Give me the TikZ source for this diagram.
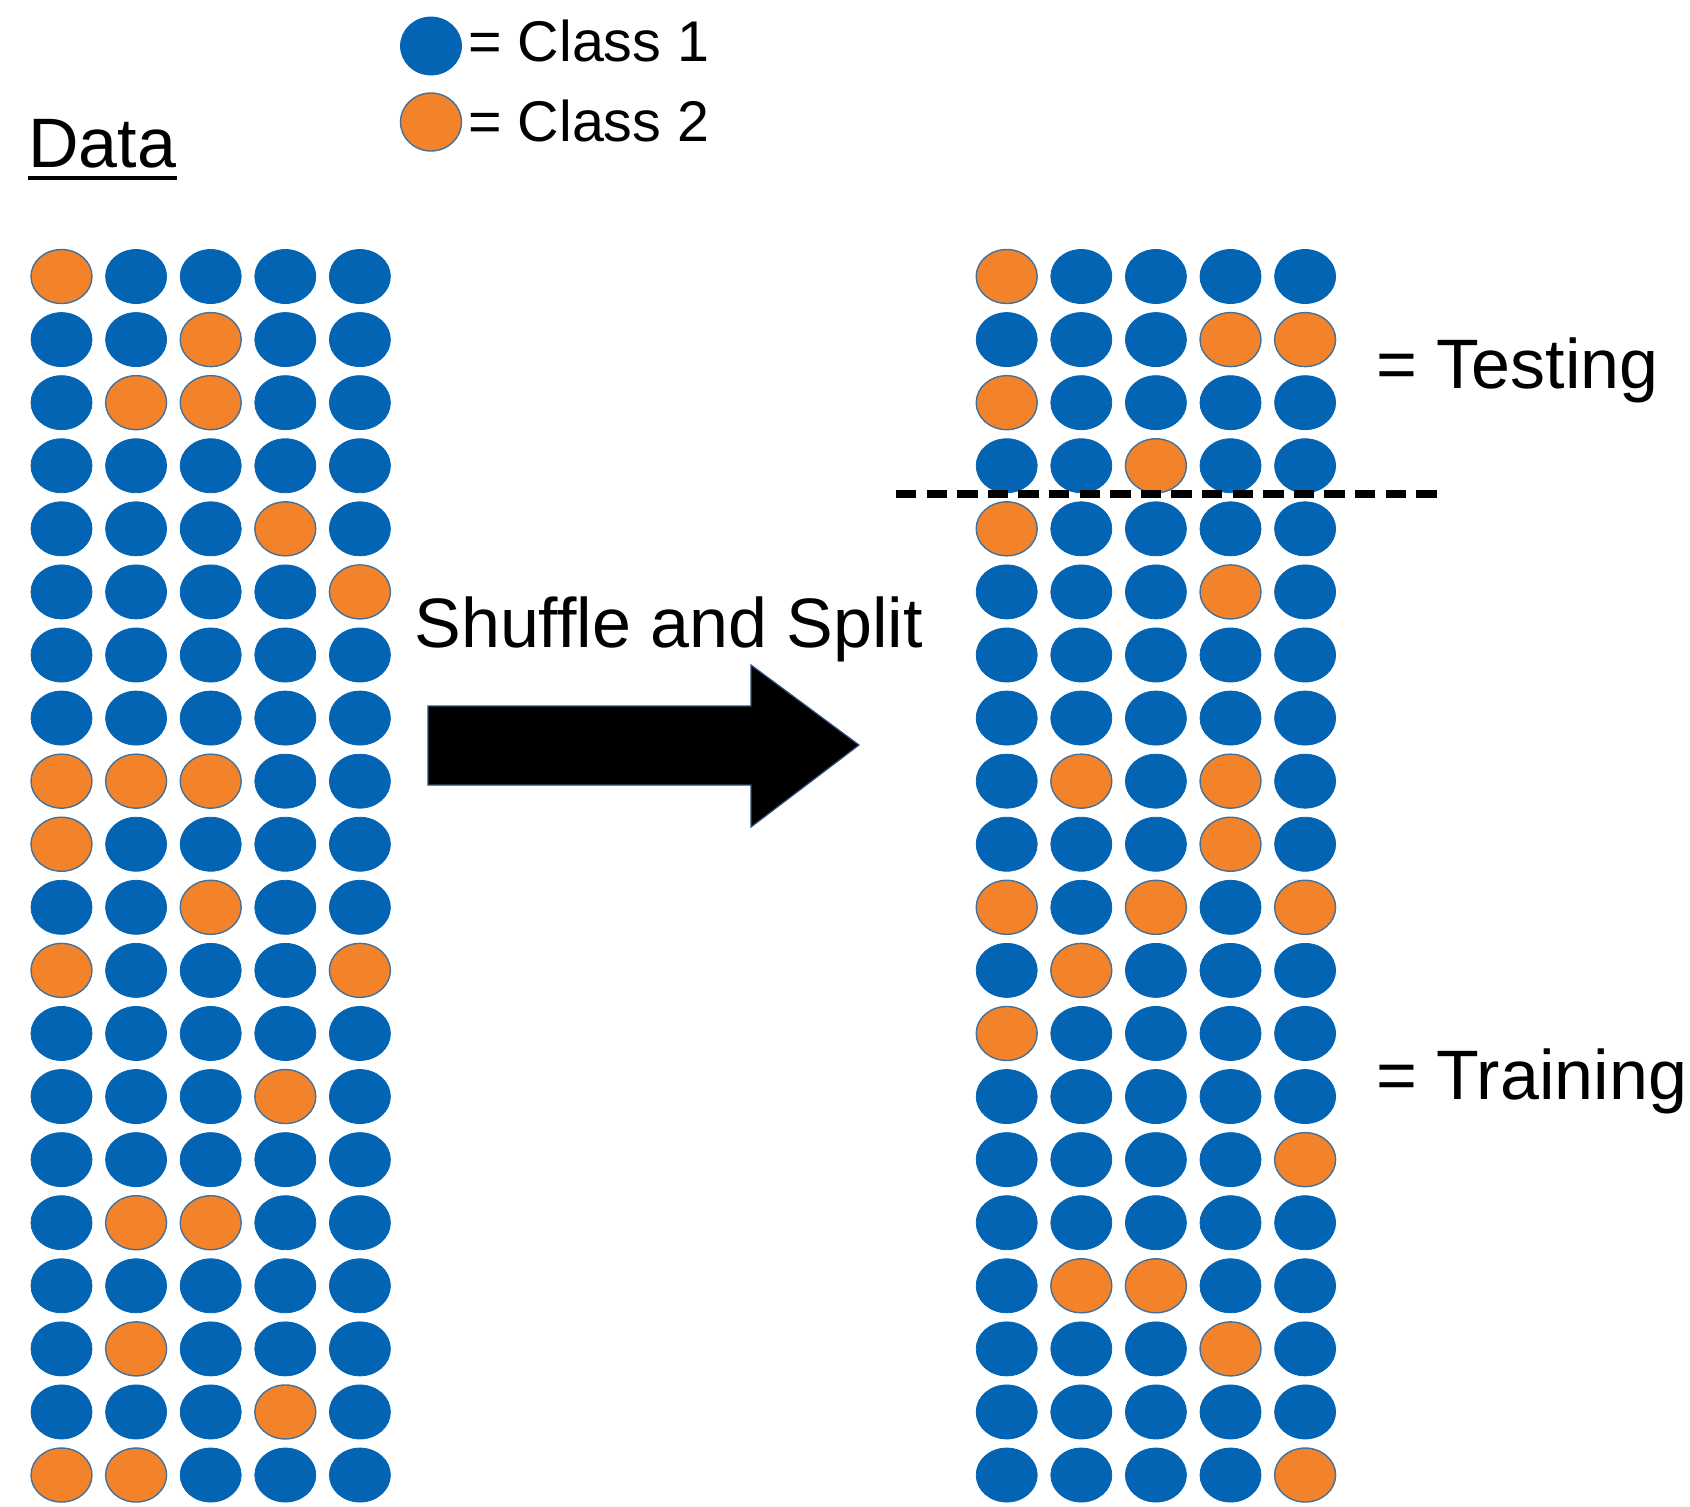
\documentclass[tikz,border=0pt]{standalone}
\usepackage{fontspec}
\setmainfont{Liberation Sans}
\usepackage{tikz}
\usetikzlibrary{shapes.geometric, positioning}
\definecolor{classone}{HTML}{0464B4}
\definecolor{classtwo}{HTML}{F2832A}
\definecolor{rim}{HTML}{41719C}
\definecolor{arrowrim}{HTML}{2F4F7F}
\tikzset {
    ball/.style={ellipse, inner sep=0pt, minimum width=30.5pt, minimum height=27pt},
    ballb/.style={ball, fill=classone, draw=classone, line width=0.4pt},
    ballo/.style={ball, fill=classtwo, draw=rim, line width=0.7pt},
    bigtext/.style={anchor=base west, inner sep=0pt, font=\fontsize{35}{41}\selectfont},
    keytext/.style={anchor=base west, inner sep=0pt, font=\fontsize{28.7}{34}\selectfont}
}

\begin{document}
\begin{tikzpicture}[x=0.5pt, y=-0.5pt]
    \useasboundingbox (0,0) rectangle (1690,1506);

    \node[ballb, minimum height=29pt] (key1) at (431,46) {};
    \node[ballo, minimum height=29pt] (key2) at (431,122) {};
    \node[keytext] (class1) at (468,61.5) {= Class 1};
    \node[keytext] (class2) at (468,141) {= Class 2};

    \node[bigtext] (data) at (28,167) {Data};
    \draw[line width=1.75pt] ([yshift=-5.5pt]data.base west) -- ([yshift=-5.5pt]data.base east);

    \foreach [count=\r] \row in {
        {o,b,b,b,b},{b,b,o,b,b},{b,o,o,b,b},{b,b,b,b,b},{b,b,b,o,b},
        {b,b,b,b,o},{b,b,b,b,b},{b,b,b,b,b},{o,o,o,b,b},{o,b,b,b,b},
        {b,b,o,b,b},{o,b,b,b,o},{b,b,b,b,b},{b,b,b,o,b},{b,b,b,b,b},
        {b,o,o,b,b},{b,b,b,b,b},{b,o,b,b,b},{b,b,b,o,b},{o,o,b,b,b}} {
        \foreach [count=\c] \k in \row {
            \node[ball\k] (L-\r-\c) at ({61.5+74.6*(\c-1)},{276.5+63.08*(\r-1)}) {};
        }
    }

    \foreach [count=\r] \row in {
        {o,b,b,b,b},{b,b,b,o,o},{o,b,b,b,b},{b,b,o,b,b},{o,b,b,b,b},
        {b,b,b,o,b},{b,b,b,b,b},{b,b,b,b,b},{b,o,b,o,b},{b,b,b,o,b},
        {o,b,o,b,o},{b,o,b,b,b},{o,b,b,b,b},{b,b,b,b,b},{b,b,b,b,o},
        {b,b,b,b,b},{b,o,o,b,b},{b,b,b,o,b},{b,b,b,b,b},{b,b,b,b,o}} {
        \foreach [count=\c] \k in \row {
            \node[ball\k] (R-\r-\c) at ({1006.7+74.6*(\c-1)},{276.5+63.08*(\r-1)}) {};
        }
    }

    \node[bigtext] (shuffle) at (414,647) {Shuffle and Split};
    \filldraw[fill=black, draw=arrowrim, line width=0.6pt]
        (428,706) -- (751,706) -- (751,665) -- (859,745)
        -- (751,827) -- (751,785) -- (428,785) -- cycle;

    \coordinate (cutL) at (896,494);
    \coordinate (cutR) at (1441,494);
    \draw[line width=3.75pt, dash pattern=on 10.2pt off 5.1pt] (cutL) -- (cutR);

    \node[bigtext] (testing) at (1376,388) {= Testing};
    \node[bigtext] (training) at (1376,1099) {= Training};
\end{tikzpicture}
\end{document}
